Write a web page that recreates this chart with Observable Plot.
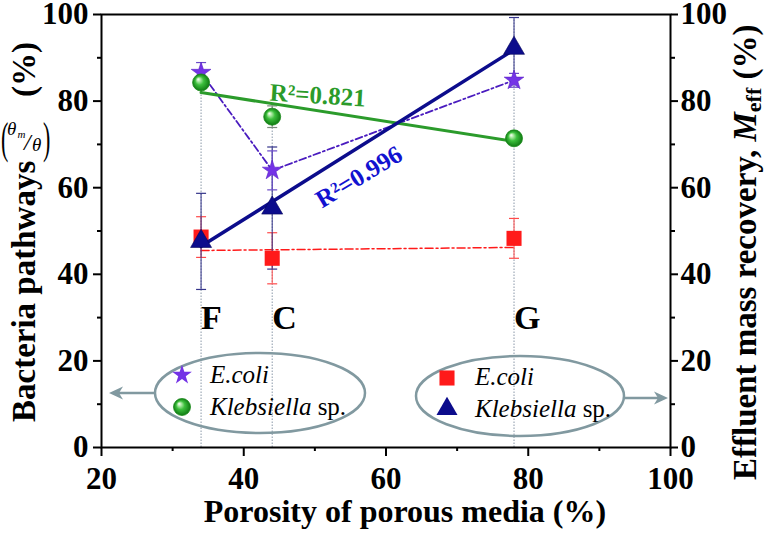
<!DOCTYPE html>
<html><head><meta charset="utf-8">
<script src="https://cdn.jsdelivr.net/npm/d3@7"></script>
<script src="https://cdn.jsdelivr.net/npm/@observablehq/plot@0.6"></script>
<style>body{margin:0;background:#fff}</style>
</head><body><div id="chart"></div>
<script>
// ---- data ----
const porosity = [34, 44, 78];
const media = ["F", "C", "G"];
const pathEcoli = [86.6, 64.0, 84.8];
const pathEcoliErr = [2.3, 4.5, 1.6];
const pathKleb = [84.3, 76.4, 71.4];
const pathKlebErr = [1.2, 2.5, 1.0];
const effEcoli = [48.6, 43.7, 48.3];
const effEcoliErr = [4.7, 5.9, 4.6];
const effKleb = [47.6, 55.3, 92.2];
const effKlebErr = [11.1, 14.1, 7.1];
const effEcoliTrend = [45.5, 46.2]; // dash-dot trend at first and last porosity
const xTicks = [20, 40, 60, 80, 100];
const xMinor = [30, 50, 70, 90];
const yTicks = [0, 20, 40, 60, 80, 100];
const yMinor = [10, 30, 50, 70, 90];
const r2Labels = ["R²=0.821", "R²=0.996"];

const FONT = "'Liberation Serif', 'Times New Roman', serif";
const C = {star: "#7433e6", starLine: "#4a1cbf", starErr: "#6a4ac8",
  green: "#2b9b2b", greenErr: "#7a8a7a", red: "#ff1a1a", redErr: "#ff4a4a",
  navy: "#0c0c8c", navyErr: "#34348a", blueText: "#1212d0", gray: "#8199a0"};

function fit(xs, ys) {
  const mx = d3.mean(xs), my = d3.mean(ys);
  const s = d3.sum(xs, (x, i) => (x - mx) * (ys[i] - my)) / d3.sum(xs, x => (x - mx) ** 2);
  return [xs[0], xs[xs.length - 1]].map(x => ({x, y: my + s * (x - mx)}));
}
const rows = (vals, errs) => porosity.map((x, i) => ({x, y: vals[i], lo: vals[i] - errs[i], hi: vals[i] + errs[i], media: media[i]}));
const sPE = rows(pathEcoli, pathEcoliErr), sPK = rows(pathKleb, pathKlebErr);
const sEE = rows(effEcoli, effEcoliErr), sEK = rows(effKleb, effKlebErr);
const guides = porosity.map((x, i) => ({x, top: Math.max(sPE[i].hi, sPK[i].hi, sEE[i].hi, sEK[i].hi)}));
const trend = [{x: porosity[0], y: effEcoliTrend[0]}, {x: porosity[porosity.length - 1], y: effEcoliTrend[1]}];

const cap = {draw(ctx, size) { const w = Math.sqrt(size / Math.PI); ctx.moveTo(-w, 0); ctx.lineTo(w, 0); }};
function errMarks(data, color) {
  return [
    Plot.ruleX(data, {x: "x", y1: "lo", y2: "hi", stroke: color, strokeWidth: 1}),
    Plot.dot(data, {x: "x", y: "lo", symbol: cap, r: 5, stroke: color, strokeWidth: 1.2, fill: "none"}),
    Plot.dot(data, {x: "x", y: "hi", symbol: cap, r: 5, stroke: color, strokeWidth: 1.2, fill: "none"})
  ];
}

const plot = Plot.plot({
  width: 768, height: 533,
  marginLeft: 101, marginRight: 98, marginTop: 14, marginBottom: 86,
  x: {domain: [20, 100]},
  y: {domain: [0, 100]},
  style: {fontFamily: FONT, fontWeight: "bold", background: "white", color: "black", overflow: "visible"},
  marks: [
    Plot.ruleX(guides, {x: "x", y1: 0, y2: "top", stroke: "#8a98a8", strokeWidth: 1, strokeDasharray: "1.5,1.5"}),
    Plot.line(trend, {x: "x", y: "y", stroke: C.red, strokeWidth: 1.5, strokeDasharray: "8,3,2,3"}),
    ...errMarks(sEE, C.redErr),
    ...errMarks(sEK, C.navyErr),
    ...errMarks(sPE, C.starErr),
    ...errMarks(sPK, C.greenErr),
    Plot.line(sPE, {x: "x", y: "y", stroke: C.starLine, strokeWidth: 1.8, strokeDasharray: "7,3,2,3"}),
    Plot.line(fit(porosity, pathKleb), {x: "x", y: "y", stroke: C.green, strokeWidth: 3}),
    Plot.dot(sEE, {x: "x", y: "y", symbol: "square", r: 8.5, fill: C.red}),
    Plot.dot(sPE, {x: "x", y: "y", symbol: "star", r: 6.2, fill: C.star, stroke: "#5a22c8", strokeWidth: 0.6}),
    Plot.dot(sPK, {x: "x", y: "y", r: 8.5, fill: "url(#sphere)", stroke: "#1b8a1b", strokeWidth: 0.8}),
    Plot.line(fit(porosity, effKleb), {x: "x", y: "y", stroke: C.navy, strokeWidth: 3.5}),
    Plot.dot(sEK, {x: "x", y: "y", symbol: "triangle", r: 7.8, fill: C.navy, stroke: "#05055a", strokeWidth: 0.6}),
    Plot.text(sEE, {x: "x", y: 29.8, text: "media", textAnchor: "start", fontSize: 34, fontWeight: "bold", fill: "black"}),
    Plot.text([r2Labels[0]], {x: 50.4, y: 81.3, text: d => d, rotate: 3.6, fill: C.green, fontSize: 25, fontWeight: "bold"}),
    Plot.text([r2Labels[1]], {x: 56.2, y: 62.5, text: d => d, rotate: -31, fill: C.blueText, fontSize: 25, fontWeight: "bold"}),
    Plot.frame({stroke: "black", strokeWidth: 2}),
    Plot.axisY({ticks: yTicks, anchor: "left", tickSize: 8, tickPadding: 5, fontSize: 31, fontWeight: "bold", strokeWidth: 2, label: null, tickFormat: d => d}),
    Plot.axisY({ticks: yMinor, anchor: "left", tickSize: 4, strokeWidth: 2, label: null, tickFormat: () => ""}),
    Plot.axisY({ticks: yTicks, anchor: "right", tickSize: 7, tickPadding: 3, fontSize: 31, fontWeight: "bold", strokeWidth: 2, label: null, tickFormat: d => d}),
    Plot.axisY({ticks: yMinor, anchor: "right", tickSize: 4, strokeWidth: 2, label: null, tickFormat: () => ""}),
    Plot.axisX({ticks: xTicks, anchor: "bottom", tickSize: 9, tickPadding: 10, fontSize: 31, fontWeight: "bold", strokeWidth: 2, label: null, tickFormat: d => d}),
    Plot.axisX({ticks: xMinor, anchor: "bottom", tickSize: 4, strokeWidth: 2, label: null, tickFormat: () => ""})
  ]
});
document.getElementById("chart").appendChild(plot);

// ---- overlay: gradient, titles, legend ----
const svg = d3.select(plot);
const defs = svg.insert("defs", ":first-child");
const grad = defs.append("radialGradient").attr("id", "sphere")
  .attr("cx", "0.5").attr("cy", "0.5").attr("r", "0.5").attr("fx", "0.32").attr("fy", "0.3");
[[0, "#ffffff"], [0.18, "#b9eeb0"], [0.5, "#3cbf3c"], [1, "#0f7a12"]]
  .forEach(([o, c]) => grad.append("stop").attr("offset", o).attr("stop-color", c));

const t = svg.append("g").attr("font-family", FONT).attr("fill", "black").attr("text-anchor", "start");
// x title
t.append("text").attr("x", 405).attr("y", 522).attr("text-anchor", "middle")
  .attr("font-size", 32).attr("font-weight", "bold").text("Porosity of porous media (%)");
// left title
t.append("text").attr("transform", "translate(35,422) rotate(-90)").attr("font-size", 33)
  .attr("font-weight", "bold").text("Bacteria pathways");
t.append("text").attr("transform", "translate(35,97) rotate(-90)").attr("font-size", 33)
  .attr("font-weight", "bold").text("(%)");
const fr = t.append("g").attr("font-weight", "normal");
fr.append("text").attr("transform", "translate(1,153) scale(0.5,1)").attr("font-size", 44).text("(");
fr.append("text").attr("x", 7).attr("y", 135).attr("font-size", 19).attr("font-style", "italic").text("θ");
fr.append("text").attr("x", 17.5).attr("y", 138).attr("font-size", 11).attr("font-style", "italic").text("m");
fr.append("text").attr("x", 24).attr("y", 150).attr("font-size", 24).attr("font-style", "italic").text("/");
fr.append("text").attr("x", 32).attr("y", 151).attr("font-size", 19).attr("font-style", "italic").text("θ");
fr.append("text").attr("transform", "translate(43,153) scale(0.5,1)").attr("font-size", 44).text(")");
// right title
const rt = t.append("text").attr("transform", "translate(756,480) rotate(-90)").attr("font-size", 33).attr("font-weight", "bold");
rt.append("tspan").text("Effluent mass recovery, ");
rt.append("tspan").attr("font-style", "italic").text("M");
rt.append("tspan").attr("font-size", 22).attr("dy", 5).text("eff");
rt.append("tspan").attr("dy", -5).text(" (%)");

// legends
const lg = svg.append("g").attr("font-family", FONT).attr("font-weight", "normal").attr("text-anchor", "start");
lg.append("ellipse").attr("cx", 260).attr("cy", 393).attr("rx", 105).attr("ry", 40)
  .attr("fill", "none").attr("stroke", C.gray).attr("stroke-width", 2.5);
lg.append("ellipse").attr("cx", 520).attr("cy", 396).attr("rx", 104).attr("ry", 40)
  .attr("fill", "none").attr("stroke", C.gray).attr("stroke-width", 2.5);
lg.append("line").attr("x1", 155).attr("y1", 393).attr("x2", 116).attr("y2", 393).attr("stroke", C.gray).attr("stroke-width", 2.5);
lg.append("polygon").attr("points", "109,393 123,386.5 119,393 123,399.5").attr("fill", C.gray);
lg.append("line").attr("x1", 624).attr("y1", 398).attr("x2", 661).attr("y2", 398).attr("stroke", C.gray).attr("stroke-width", 2.5);
lg.append("polygon").attr("points", "668,398 654,391.5 658,398 654,404.5").attr("fill", C.gray);

const sym = (type, r) => d3.symbol(type, Math.PI * r * r)();
lg.append("path").attr("d", sym(d3.symbolStar, 6.2)).attr("transform", "translate(182,375)").attr("fill", C.star);
lg.append("circle").attr("cx", 182).attr("cy", 407).attr("r", 8.5).attr("fill", "url(#sphere)").attr("stroke", "#1b8a1b").attr("stroke-width", 0.8);
lg.append("path").attr("d", sym(d3.symbolSquare, 8.5)).attr("transform", "translate(447,378)").attr("fill", C.red);
lg.append("path").attr("d", sym(d3.symbolTriangle, 7.8)).attr("transform", "translate(447,409)").attr("fill", C.navy);

function legendText(x, y, italic, rest) {
  const tx = lg.append("text").attr("x", x).attr("y", y).attr("font-size", 25);
  tx.append("tspan").attr("font-style", "italic").text(italic);
  if (rest) tx.append("tspan").text(rest);
}
legendText(210, 383, "E.coli");
legendText(210, 415, "Klebsiella", " sp.");
legendText(475, 385, "E.coli");
legendText(475, 417, "Klebsiella", " sp.");
</script>
</body></html>
